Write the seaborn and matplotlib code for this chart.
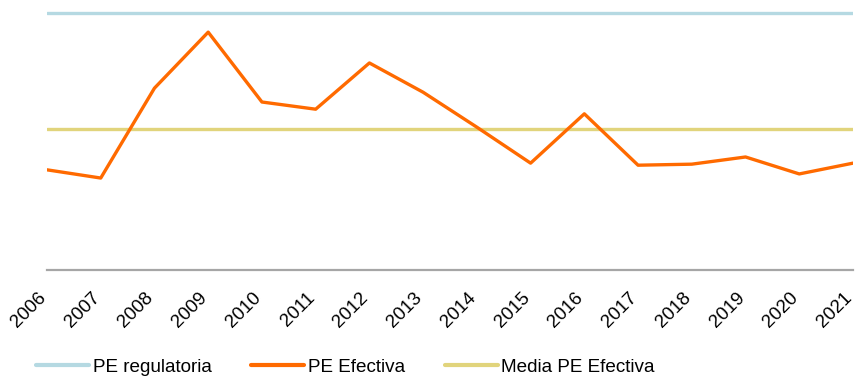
import matplotlib
matplotlib.use("Agg")
import matplotlib.pyplot as plt
import matplotlib.transforms as mtransforms
import seaborn as sns
import pandas as pd

years = list(range(2006, 2022))
pe_efectiva = [1.95, 1.79, 3.54, 4.63, 3.27, 3.13, 4.03, 3.46, 2.78, 2.08,
               3.04, 2.04, 2.06, 2.20, 1.87, 2.08]
pe_regulatoria = [5.0] * len(years)
media_pe_efectiva = [2.74] * len(years)

series_names = ["PE regulatoria", "PE Efectiva", "Media PE Efectiva"]
colors = ["#B5D9E2", "#FF6A00", "#E1D47C"]

df = pd.concat([
    pd.DataFrame({"Año": years, "Valor": pe_regulatoria, "Serie": series_names[0]}),
    pd.DataFrame({"Año": years, "Valor": pe_efectiva, "Serie": series_names[1]}),
    pd.DataFrame({"Año": years, "Valor": media_pe_efectiva, "Serie": series_names[2]}),
], ignore_index=True)

sns.set_theme(style="white")
plt.rcParams["font.family"] = ["Liberation Sans", "DejaVu Sans"]
plt.rcParams["text.color"] = "black"

fig = plt.figure(figsize=(8.56, 3.79), dpi=100)
ax = fig.add_axes([47 / 856, 1 - 270 / 379, (853 - 47) / 856, (270 - 8) / 379])

sns.lineplot(data=df, x="Año", y="Valor", hue="Serie", hue_order=series_names,
             palette=colors, linewidth=2.4, ax=ax, legend=True)
# Keep the effective series on top of the constant reference lines
for line, z in zip(ax.get_lines()[:3], [2, 4, 3]):
    line.set_zorder(z)

ax.set_xlim(years[0], years[-1])
ax.set_ylim(0, 5.1)
ax.set_xticks(years)
ax.set_xticklabels([str(y) for y in years], rotation=45, ha="right",
                   fontsize=13.5, color="black")
ax.tick_params(axis="x", length=0, pad=14)
# nudge the rotated year labels slightly to the right
shift = mtransforms.ScaledTranslation(2.5 / 100, 0, fig.dpi_scale_trans)
for lbl in ax.get_xticklabels():
    lbl.set_transform(lbl.get_transform() + shift)
ax.set_yticks([])
ax.set_xlabel("")
ax.set_ylabel("")

for side in ["top", "left", "right"]:
    ax.spines[side].set_visible(False)
ax.spines["bottom"].set_color("#A6A6A6")
ax.spines["bottom"].set_linewidth(1.6)

handles, labels = ax.get_legend_handles_labels()
leg = ax.legend(handles, labels, loc="center left",
                bbox_to_anchor=(36 / 856, 1 - 367 / 379),
                bbox_transform=fig.transFigure, ncol=3, frameon=False, fontsize=13.6,
                handlelength=2.8, handletextpad=0.2, columnspacing=2.1,
                borderaxespad=0, borderpad=0)
for h in leg.get_lines():
    h.set_linewidth(3)
for t in leg.get_texts():
    t.set_color("black")

fig.savefig("out.png", dpi=100)
